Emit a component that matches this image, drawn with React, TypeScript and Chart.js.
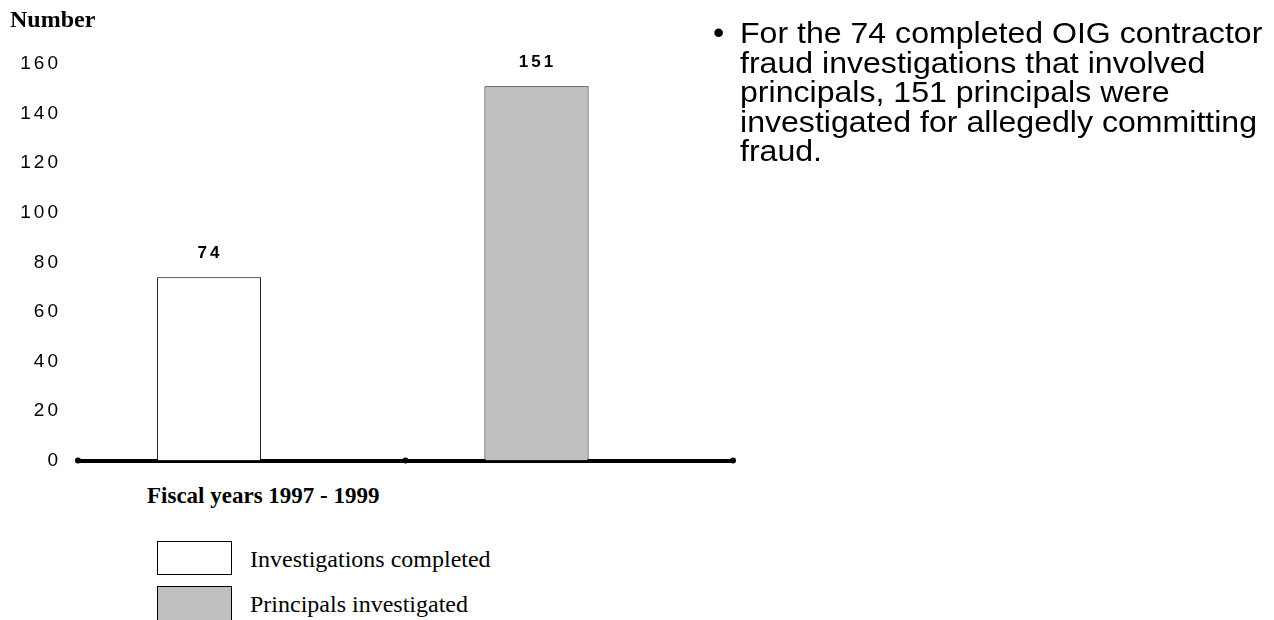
import React, { useEffect, useRef } from "react";
import { Chart, registerables } from "chart.js";

Chart.register(...registerables);

// ---- data ----
const categories = ["Investigations completed", "Principals investigated"];
const values = [74, 151];
const yTickValues = [0, 20, 40, 60, 80, 100, 120, 140, 160];
const barColors = ["#ffffff", "#c0c0c0"];
const yTitle = "Number";
const xTitle = "Fiscal years 1997 - 1999";
const noteLines = [
  "For the 74 completed OIG contractor",
  "fraud investigations that involved",
  "principals, 151 principals were",
  "investigated for allegedly committing",
  "fraud.",
];

const SANS = '"Liberation Sans", Arial, sans-serif';
const SERIF = '"Liberation Serif", "Times New Roman", serif';

const spacingPlugin = {
  id: "spacing",
  beforeDraw(chart: any) {
    chart.ctx.letterSpacing = "3px";
  },
};

const valueLabelPlugin = {
  id: "valueLabels",
  afterDatasetsDraw(chart: any) {
    const ctx = chart.ctx;
    const meta = chart.getDatasetMeta(0);
    ctx.save();
    ctx.letterSpacing = "3px";
    ctx.font = `bold 17px ${SANS}`;
    ctx.fillStyle = "#000";
    ctx.textAlign = "center";
    ctx.textBaseline = "middle";
    meta.data.forEach((bar: any, i: number) => {
      ctx.fillText(String(values[i]), bar.x + 1, bar.y - 24);
    });
    ctx.restore();
  },
};

const axisEndsPlugin = {
  id: "axisEnds",
  afterDraw(chart: any) {
    const ctx = chart.ctx;
    const xs = chart.scales.x;
    const y = chart.chartArea.bottom;
    ctx.save();
    ctx.fillStyle = "#000";
    xs.ticks.forEach((t: any) => {
      const px = xs.getPixelForValue(t.value);
      ctx.beginPath();
      ctx.arc(px, y, 3, 0, Math.PI * 2);
      ctx.fill();
    });
    ctx.restore();
  },
};

export default function App() {
  const ref = useRef<HTMLCanvasElement | null>(null);

  useEffect(() => {
    if (!ref.current) return;
    const chart = new Chart(ref.current, {
      type: "bar",
      data: {
        datasets: [
          {
            label: "Number",
            data: values.map((v, i) => ({ x: i, y: v })),
            backgroundColor: barColors,
            borderColor: "#000",
            borderWidth: 1,
            categoryPercentage: 1,
            barPercentage: 0.318,
          } as any,
        ],
      },
      options: {
        animation: false,
        responsive: false,
        layout: { padding: { top: 64, right: 12, left: 0, bottom: 0 } },
        plugins: {
          legend: { display: false },
          tooltip: { enabled: false },
          title: { display: false },
        },
        scales: {
          x: {
            type: "linear",
            offset: false,
            min: -0.4,
            max: 1.6,
            afterBuildTicks: (s: any) => {
              s.ticks = [{ value: -0.4 }, { value: 0.6 }, { value: 1.6 }];
            },
            ticks: { display: false },
            grid: {
              display: false,
            },
            border: { display: true, color: "#000", width: 4 },
            afterFit: (s: any) => {
              s.height = 10;
            },
          },
          y: {
            min: 0,
            max: 160,
            afterBuildTicks: (s: any) => {
              s.ticks = yTickValues.map((v) => ({ value: v }));
            },
            ticks: {
              color: "#000",
              font: { family: SANS, size: 19 },
              padding: 9,
            },
            grid: { display: false },
            border: { display: false },
            afterFit: (s: any) => {
              s.width = 78;
            },
          },
        },
      } as any,
      plugins: [spacingPlugin, valueLabelPlugin, axisEndsPlugin],
    });
    return () => chart.destroy();
  }, []);

  const legendText = {
    position: "absolute" as const,
    left: 250,
    fontFamily: SERIF,
    fontSize: 24,
    lineHeight: "24px",
    whiteSpace: "nowrap" as const,
    color: "#000",
  };
  const box = {
    position: "absolute" as const,
    left: 157,
    width: 75,
    height: 34,
    border: "1.5px solid #000",
    boxSizing: "border-box" as const,
  };

  return (
    <div
      style={{
        position: "absolute",
        left: 0,
        top: 0,
        width: 1274,
        height: 620,
        overflow: "hidden",
        background: "#fff",
      }}
    >
      <canvas
        ref={ref}
        width={745}
        height={481}
        style={{ position: "absolute", left: 0, top: 0, width: 745, height: 481 }}
      />
      <div
        style={{
          position: "absolute",
          left: 10,
          top: 7,
          fontFamily: SERIF,
          fontWeight: "bold",
          fontSize: 24,
          lineHeight: "24px",
          color: "#000",
        }}
      >
        {yTitle}
      </div>
      <div
        style={{
          position: "absolute",
          left: 147,
          top: 484,
          fontFamily: SERIF,
          fontWeight: "bold",
          fontSize: 23,
          lineHeight: "23px",
          whiteSpace: "nowrap",
          color: "#000",
        }}
      >
        {xTitle}
      </div>
      <div style={{ ...box, top: 541, background: barColors[0] }} />
      <div style={{ ...legendText, top: 547 }}>{categories[0]}</div>
      <div style={{ ...box, top: 586, height: 36, background: barColors[1] }} />
      <div style={{ ...legendText, top: 592 }}>{categories[1]}</div>
      <div
        style={{
          position: "absolute",
          left: 713,
          top: 18,
          fontFamily: SANS,
          fontSize: 32,
          lineHeight: "29.5px",
          color: "#000",
        }}
      >
        •
      </div>
      <div
        style={{
          position: "absolute",
          left: 740,
          top: 19,
          fontFamily: SANS,
          fontSize: 29,
          lineHeight: "29.5px",
          whiteSpace: "nowrap",
          color: "#000",
          transform: "scaleX(1.106)",
          transformOrigin: "0 0",
        }}
      >
        {noteLines.map((l, i) => (
          <div key={i}>{l}</div>
        ))}
      </div>
    </div>
  );
}
